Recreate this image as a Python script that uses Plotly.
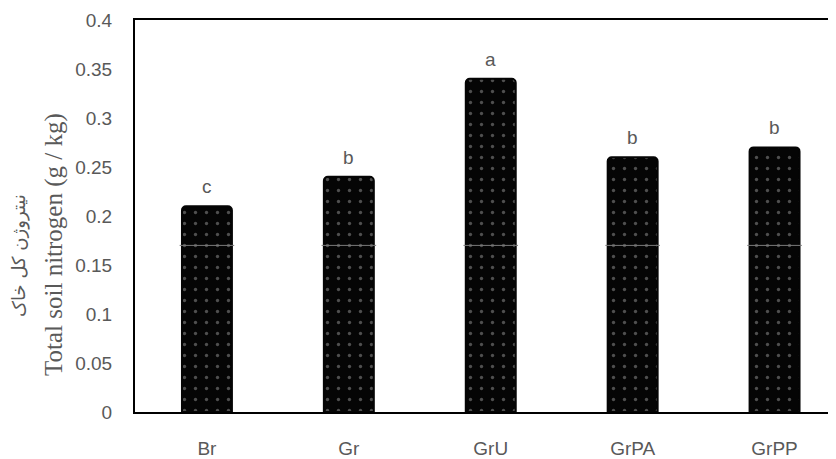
import plotly.graph_objects as go

categories = ["Br", "Gr", "GrU", "GrPA", "GrPP"]
nitrogen = [0.21, 0.24, 0.34, 0.26, 0.27]
letters = ["c", "b", "a", "b", "b"]
tick_vals = [0, 0.05, 0.1, 0.15, 0.2, 0.25, 0.3, 0.35, 0.4]
tick_text = ["0", "0.05", "0.1", "0.15", "0.2", "0.25", "0.3", "0.35", "0.4"]
artifact_level = [0.17] * len(categories)

title_en = "Total soil nitrogen (g / kg)"
title_fa = "نیتروژن کل خاک"

TXT = "#595959"

fig = go.Figure()
fig.add_trace(go.Bar(
    x=categories, y=nitrogen,
    marker=dict(
        color="#050505",
        line=dict(color="#050505", width=2),
        cornerradius=4,
        pattern=dict(shape=".", fgcolor="#9a9a9a", bgcolor="#050505",
                     size=11, solidity=0.07, fillmode="overlay"),
    ),
    showlegend=False,
))
fig.add_trace(go.Scatter(
    x=categories, y=artifact_level, mode="markers",
    marker=dict(symbol="line-ew", size=39, line=dict(color="#7a7a7a", width=1)),
    showlegend=False, hoverinfo="skip",
))

for c, v, t in zip(categories, nitrogen, letters):
    fig.add_annotation(x=c, y=v, text=t, showarrow=False, yanchor="bottom",
                       yshift=7, font=dict(family="Liberation Sans", size=19, color=TXT))

fig.add_annotation(xref="paper", yref="paper", x=(54 - 135) / 701, y=(412 - 245) / 392,
                   text=title_en, textangle=-90, showarrow=False,
                   xanchor="center", yanchor="middle",
                   font=dict(family="Liberation Serif", size=25, color=TXT))
fig.add_annotation(xref="paper", yref="paper", x=(19 - 135) / 701, y=(412 - 256) / 392,
                   text=title_fa, textangle=-90, showarrow=False,
                   xanchor="center", yanchor="middle",
                   font=dict(family="DejaVu Sans", size=18, color=TXT))

# the page body adds an 8px offset; margins compensate so the plot lands where the reference has it
fig.update_layout(
    width=836, height=459,
    margin=dict(l=127, r=8, t=12, b=55),
    plot_bgcolor="white", paper_bgcolor="white",
    bargap=0.648,
    font=dict(family="Liberation Sans", size=19, color=TXT),
)
fig.update_xaxes(
    range=[-0.507, 4.433], showline=True, linecolor="black", linewidth=2,
    mirror=True, showgrid=False, ticks="", ticklabelstandoff=18, automargin=False,
    tickfont=dict(family="Liberation Sans", size=19, color=TXT),
)
fig.update_yaxes(
    range=[0, 0.4], showline=True, linecolor="black", linewidth=2,
    mirror=False, showgrid=False, zeroline=False, ticks="", automargin=False,
    tickvals=tick_vals, ticktext=tick_text, ticklabelstandoff=17,
    tickfont=dict(family="Liberation Sans", size=19, color=TXT),
)

fig.write_html("out.html")
